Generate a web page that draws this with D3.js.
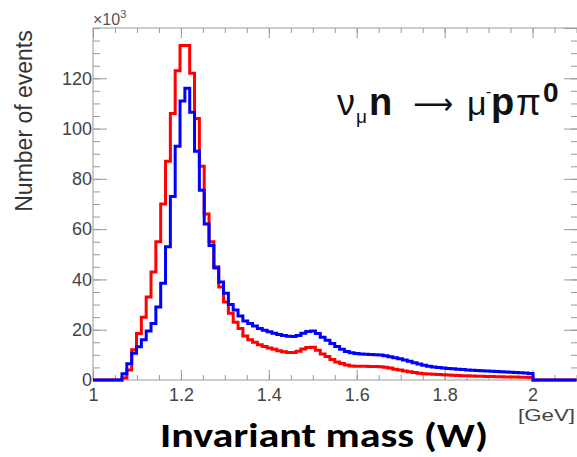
<!DOCTYPE html>
<html>
<head>
<meta charset="utf-8">
<script src="https://cdn.jsdelivr.net/npm/d3@7"></script>
<style>
  body { margin: 0; background: #fff; }
  svg { display: block; }
</style>
</head>
<body>
<div id="chart"></div>
<script>
// histogram: 100 bins from 1.0 to 2.1 GeV, counts in units of 10^3
const binLow = 1.0;
const binWidth = 0.011;

const countsRed = [
  0, 0, 0, 0, 0, 0, 0.8, 4, 12, 18.5,
  25, 33, 43, 55, 70, 87, 106, 123, 133, 133,
  122, 104, 85, 66, 55, 45, 37, 31, 26.5, 23,
  20.5, 17.5, 16, 15, 14, 13.3, 12.7, 12.2, 11.6, 11.2,
  10.9, 10.9, 11.4, 12.3, 12.9, 13, 11.8, 10.3, 9.3, 8.2,
  7.2, 6.6, 6, 5.6, 5.5, 5.5, 5.5, 5.4, 5.4, 5.3,
  5.1, 4.8, 4.3, 4, 3.6, 3.3, 3, 2.7, 2.5, 2.4,
  2.3, 2.2, 2.1, 2, 1.9, 1.8, 1.7, 1.7, 1.6, 1.5,
  1.5, 1.4, 1.4, 1.3, 1.3, 1.2, 1.2, 1.2, 1.1, 1.1,
  1, 0, 0, 0, 0, 0, 0, 0, 0, 0
];

const countsBlue = [
  0, 0, 0, 0, 0, 0, 2.5, 6.5, 10.6, 13.2,
  16, 19.5, 22.5, 29, 38.5, 53, 73, 93, 111, 116,
  106.5, 91, 75.5, 62, 53.5, 44.5, 39, 34.5, 30, 27.8,
  25.5, 23.5, 22.5, 21.5, 20.5, 19.8, 19.2, 18.6, 18.1, 17.7,
  17.4, 17.3, 17.7, 18.6, 19.3, 19.5, 18.5, 17, 15.8, 14.5,
  13.3, 12.2, 11.3, 10.8, 10.5, 10.3, 10.2, 10.1, 10, 9.9,
  9.6, 9.2, 8.8, 8.5, 8, 7.5, 6.9, 6.4, 5.9, 5.5,
  5.2, 5, 4.8, 4.6, 4.5, 4.3, 4.2, 4, 3.9, 3.8,
  3.7, 3.6, 3.5, 3.4, 3.3, 3.2, 3.1, 3, 2.9, 2.8,
  2.6, 0, 0, 0, 0, 0, 0, 0, 0, 0
];

const xMajorTicks = [1, 1.2, 1.4, 1.6, 1.8, 2];
const xTickLabels = ["1", "1.2", "1.4", "1.6", "1.8", "2"];
const yMajorTicks = [0, 20, 40, 60, 80, 100, 120];

const width = 577, height = 457;
const plotLeft = 93, plotTop = 28, plotBottom = 380, plotRight = 578;

const svg = d3.select("#chart").append("svg")
  .attr("width", width)
  .attr("height", height);

const x = d3.scaleLinear().domain([1, 2.1]).range([plotLeft, 576.5]);
const y = d3.scaleLinear().domain([0, 140]).range([plotBottom, plotTop]);

const xMinor = d3.range(1, 2.1001, 0.05);
const yMinor = d3.range(0, 141, 5);
const gray = "#9a9a9a";

function styleAxis(g) {
  g.select(".domain").remove();
  g.selectAll(".tick line").attr("stroke", gray);
  g.selectAll("text")
    .attr("fill", "#444")
    .style("font-family", "'Liberation Sans', Arial, sans-serif")
    .style("font-size", "18px");
}

// frame
svg.append("rect")
  .attr("x", plotLeft).attr("y", plotTop)
  .attr("width", plotRight - plotLeft).attr("height", plotBottom - plotTop)
  .attr("fill", "none").attr("stroke", gray);

// bottom axis
svg.append("g").attr("transform", `translate(0,${plotBottom})`)
  .call(d3.axisBottom(x).tickValues(xMinor).tickSizeInner(-5).tickSizeOuter(0).tickFormat(""))
  .call(styleAxis);
svg.append("g").attr("transform", `translate(0,${plotBottom})`)
  .call(d3.axisBottom(x).tickValues(xMajorTicks).tickSizeInner(-10).tickSizeOuter(0)
    .tickPadding(8).tickFormat((d, i) => xTickLabels[i]))
  .call(styleAxis);

// top axis
svg.append("g").attr("transform", `translate(0,${plotTop})`)
  .call(d3.axisTop(x).tickValues(xMinor).tickSizeInner(-5).tickSizeOuter(0).tickFormat(""))
  .call(styleAxis);
svg.append("g").attr("transform", `translate(0,${plotTop})`)
  .call(d3.axisTop(x).tickValues(xMajorTicks).tickSizeInner(-10).tickSizeOuter(0).tickFormat(""))
  .call(styleAxis);

// left axis
svg.append("g").attr("transform", `translate(${plotLeft},0)`)
  .call(d3.axisLeft(y).tickValues(yMinor).tickSizeInner(-7).tickSizeOuter(0).tickFormat(""))
  .call(styleAxis);
svg.append("g").attr("transform", `translate(${plotLeft},0)`)
  .call(d3.axisLeft(y).tickValues(yMajorTicks).tickSizeInner(-14).tickSizeOuter(0).tickPadding(1))
  .call(styleAxis);

// right axis
svg.append("g").attr("transform", `translate(${plotRight},0)`)
  .call(d3.axisRight(y).tickValues(yMinor).tickSizeInner(-7).tickSizeOuter(0).tickFormat(""))
  .call(styleAxis);
svg.append("g").attr("transform", `translate(${plotRight},0)`)
  .call(d3.axisRight(y).tickValues(yMajorTicks.concat([140])).tickSizeInner(-14).tickSizeOuter(0).tickFormat(""))
  .call(styleAxis);

// histograms as step lines
function steps(counts) {
  const pts = counts.map((v, i) => [binLow + i * binWidth, v]);
  pts.push([binLow + counts.length * binWidth, counts[counts.length - 1]]);
  return pts;
}
const line = d3.line()
  .x(d => x(d[0]))
  .y(d => y(d[1]))
  .curve(d3.curveStepAfter);

svg.append("path").datum(steps(countsRed))
  .attr("d", line).attr("fill", "none")
  .attr("stroke", "#ff0000").attr("stroke-width", 3);
svg.append("path").datum(steps(countsBlue))
  .attr("d", line).attr("fill", "none")
  .attr("stroke", "#0000ff").attr("stroke-width", 3);

// labels
const sans = "'Liberation Sans', Arial, sans-serif";

svg.append("text")
  .attr("transform", "translate(32,121) rotate(-90)")
  .attr("text-anchor", "middle")
  .attr("fill", "#333")
  .style("font-family", sans).style("font-size", "23px")
  .text("Number of events");

const scaleLabel = svg.append("text")
  .attr("x", 93).attr("y", 25)
  .attr("fill", "#555")
  .style("font-family", sans).style("font-size", "16px");
scaleLabel.append("tspan").text("\u00d710");
scaleLabel.append("tspan").attr("dy", -7).style("font-size", "11px").text("3");

svg.append("text")
  .attr("x", 518).attr("y", 421)
  .attr("fill", "#444")
  .attr("textLength", 57).attr("lengthAdjust", "spacingAndGlyphs")
  .style("font-family", sans).style("font-size", "17px")
  .text("[GeV]");

svg.append("text")
  .attr("x", 324).attr("y", 447)
  .attr("text-anchor", "middle")
  .attr("fill", "#000")
  .attr("textLength", 328).attr("lengthAdjust", "spacingAndGlyphs")
  .style("font-family", "Carlito, Lato, 'Open Sans', sans-serif")
  .style("font-weight", "bold").style("font-size", "34px")
  .text("Invariant mass (W)");

// reaction label
const reaction = svg.append("g")
  .style("font-family", sans).attr("fill", "#111");
function piece(t, px, py, size, bold, len, family) {
  const el = reaction.append("text")
    .attr("x", px).attr("y", py)
    .style("font-size", size + "px")
    .style("font-weight", bold ? "bold" : "normal")
    .text(t);
  if (len) el.attr("textLength", len).attr("lengthAdjust", "spacingAndGlyphs");
  if (family) el.style("font-family", family);
}
piece("\u03bd", 337, 115, 36, false);
piece("\u03bc", 356, 123, 19, false);
piece("n", 369, 115, 38, true);
piece("\u27f6", 413, 114, 30, false, 40, "'DejaVu Sans', sans-serif");
piece("\u03bc", 467, 115, 34, false);
piece("-", 486, 97, 16, false);
piece("p", 491, 115, 38, true);
piece("\u03c0", 516, 115, 36, false);
piece("0", 543, 102, 28, true);
</script>
</body>
</html>
